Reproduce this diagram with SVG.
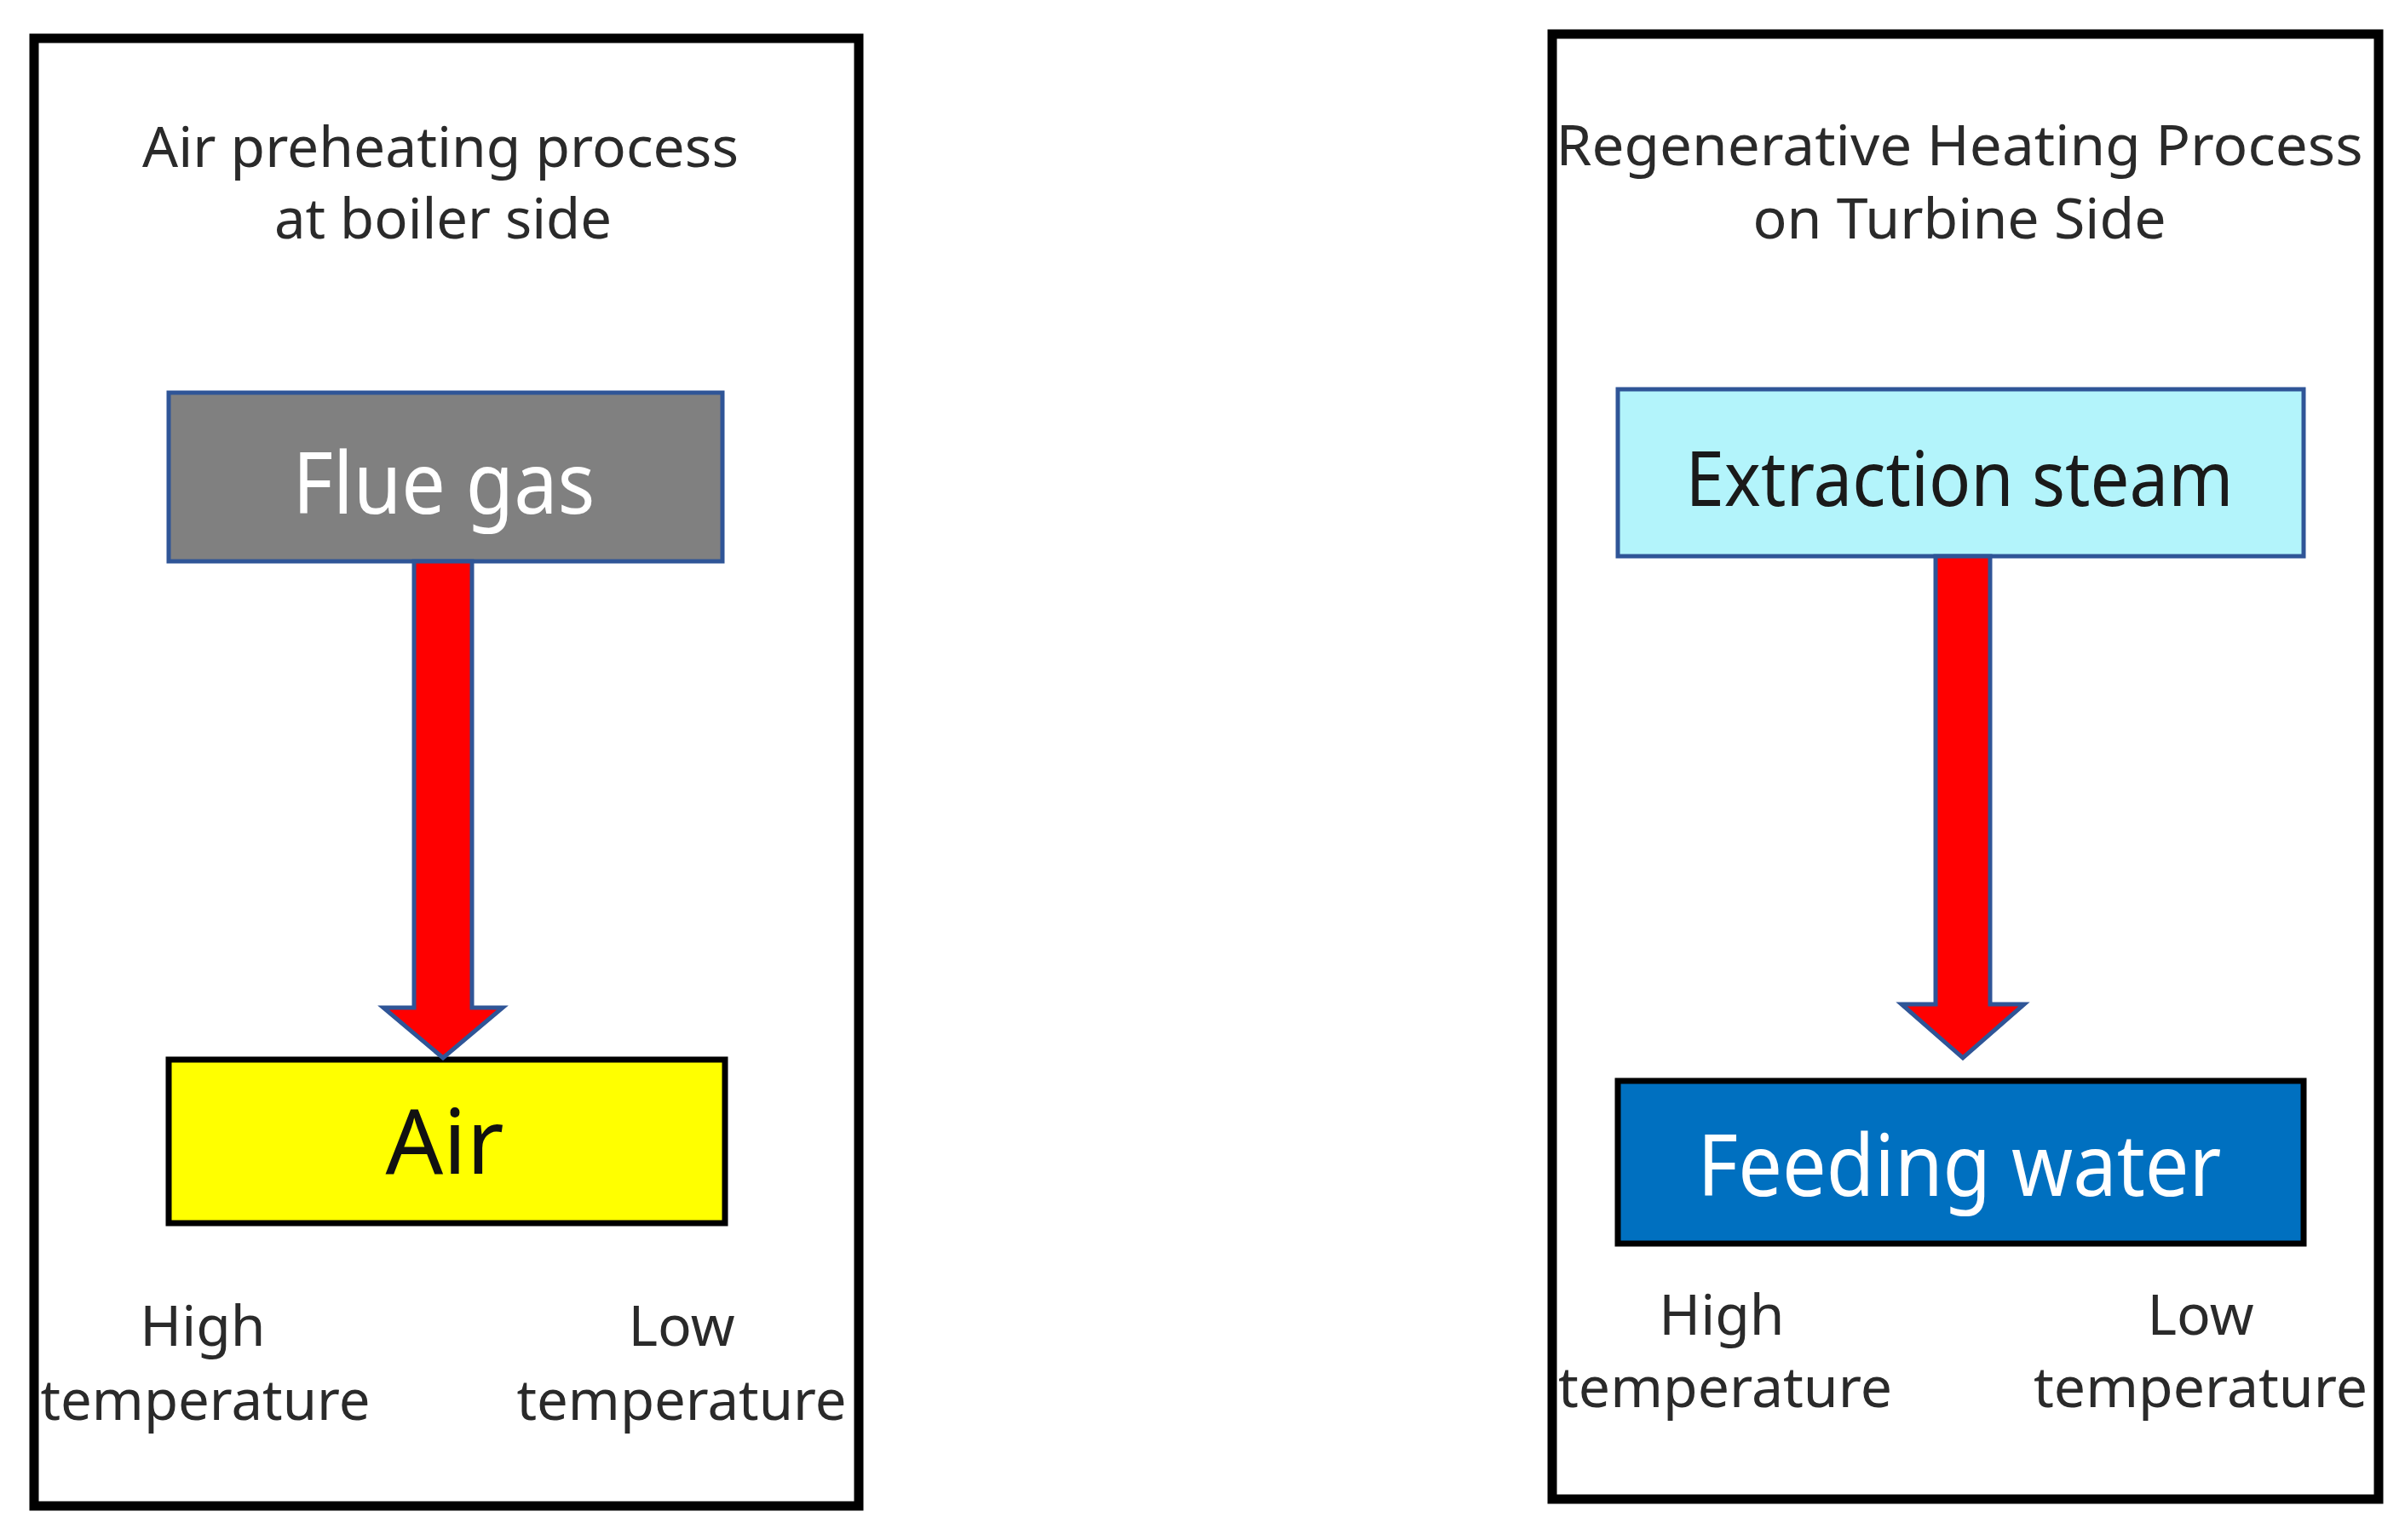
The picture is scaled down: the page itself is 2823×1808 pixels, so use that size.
<svg xmlns="http://www.w3.org/2000/svg" width="2823" height="1808" viewBox="0 0 2823 1808">
<style>
.frame{fill:none;stroke:#000;stroke-width:11}
.t{font-family:"Noto Sans","Liberation Sans",sans-serif;fill:#2a2a2a;text-anchor:middle}
.arrow{fill:#FF0000;stroke:#2F5597;stroke-width:5;stroke-linejoin:miter}
</style>
<rect width="2823" height="1808" fill="#fff"/>
<g id="panel-left">
<rect class="frame" x="40" y="45" width="968" height="1723"/>
<text class="t" x="517" y="196" font-size="66" textLength="700" lengthAdjust="spacingAndGlyphs">Air preheating process</text>
<text class="t" x="520" y="280" font-size="66" textLength="396" lengthAdjust="spacingAndGlyphs">at boiler side</text>
<text class="t" x="238" y="1580" font-size="66">High</text>
<text class="t" x="241" y="1667" font-size="66" textLength="387" lengthAdjust="spacingAndGlyphs">temperature</text>
<text class="t" x="800" y="1580" font-size="66">Low</text>
<text class="t" x="800" y="1667" font-size="66" textLength="387" lengthAdjust="spacingAndGlyphs">temperature</text>
</g>
<g id="flue-gas">
<rect x="198" y="461" width="650" height="198" fill="#808080" stroke="#2F5597" stroke-width="5"/>
<text class="t" x="521" y="603" font-size="100" fill="#fff" style="fill:#fff" textLength="355" lengthAdjust="spacingAndGlyphs">Flue gas</text>
</g>
<g id="air">
<rect x="198" y="1244" width="653" height="192" fill="#FFFF00" stroke="#000" stroke-width="7"/>
<text class="t" x="522" y="1378" font-size="106" style="fill:#111">Air</text>
</g>
<g id="panel-right">
<rect class="frame" x="1822" y="40" width="970" height="1720"/>
<text class="t" x="2300" y="194" font-size="66" textLength="947" lengthAdjust="spacingAndGlyphs">Regenerative Heating Process</text>
<text class="t" x="2300" y="280" font-size="66" textLength="485" lengthAdjust="spacingAndGlyphs">on Turbine Side</text>
<text class="t" x="2021" y="1567" font-size="66">High</text>
<text class="t" x="2025" y="1652" font-size="66" textLength="392" lengthAdjust="spacingAndGlyphs">temperature</text>
<text class="t" x="2583" y="1567" font-size="66">Low</text>
<text class="t" x="2583" y="1652" font-size="66" textLength="392" lengthAdjust="spacingAndGlyphs">temperature</text>
</g>
<g id="extraction-steam">
<rect x="1899" y="457" width="805" height="196" fill="#B3F4FB" stroke="#2F5597" stroke-width="5"/>
<text class="t" x="2300" y="594" font-size="90" style="fill:#1a1a1a" textLength="643" lengthAdjust="spacingAndGlyphs">Extraction steam</text>
</g>
<g id="feeding-water">
<rect x="1899" y="1269" width="805" height="191" fill="#0070C0" stroke="#000" stroke-width="7"/>
<text class="t" x="2300" y="1404" font-size="100" style="fill:#fff" textLength="615" lengthAdjust="spacingAndGlyphs">Feeding water</text>
</g>
<g id="connectors">
<path class="arrow" d="M486 659 L554 659 L554 1183 L590 1183 L520 1242 L450 1183 L486 1183 Z"/>
<path class="arrow" d="M2272 653 L2336 653 L2336 1179 L2376 1179 L2304 1242 L2232 1179 L2272 1179 Z"/>
</g>
</svg>
